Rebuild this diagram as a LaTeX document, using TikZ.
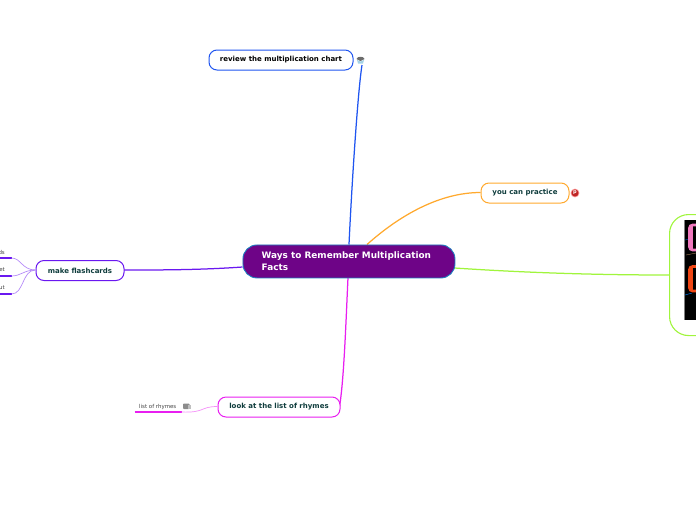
\documentclass[tikz,border=0pt]{standalone}
\usepackage{fontspec}
\setmainfont{DejaVu Sans}
\definecolor{cBlue}{HTML}{1F55F0}
\definecolor{cOrange}{HTML}{FFA92E}
\definecolor{cGreen}{HTML}{A0F53C}
\definecolor{cViolet}{HTML}{6A18F0}
\definecolor{cMag}{HTML}{E81FF0}
\definecolor{cCenter}{HTML}{6E0487}
\definecolor{cEdge}{HTML}{1C80C0}
\definecolor{cText}{HTML}{0F3D3D}
\definecolor{cPink}{HTML}{F078BE}
\definecolor{cRed}{HTML}{F04614}
\tikzset{
 x=1pt,y=-1pt,
 topic/.style={draw,fill=white,rounded corners=8pt,line width=1pt,inner sep=0pt,anchor=north west,text=cText,font=\fontsize{7}{9}\selectfont\bfseries,align=center},
 leaf/.style={inner sep=0pt,font=\fontsize{5.45}{6}\selectfont,text=black!75},
 conn/.style={line width=1.25pt},
 thin conn/.style={line width=.7pt},
 under/.style={line width=1.4pt},
}
\begin{document}
\begin{tikzpicture}
\useasboundingbox (0,0) rectangle (696,520);
\clip (0,0) rectangle (696,520);
\coordinate (cT) at (349,244.5);
\coordinate (cB) at (348,277.5);
\coordinate (cO) at (367,244.5);
\coordinate (cL) at (242.5,267);
\coordinate (cR) at (454.5,268);
\coordinate (revEnd) at (362,65);
\coordinate (practiceW) at (480.5,192.5);
\coordinate (flashE) at (123.5,270);
\coordinate (flashW) at (35.5,270);
\coordinate (rhymesE) at (339.5,406.5);
\coordinate (rhymesW) at (217.5,406.5);
\coordinate (imgW) at (669,275);
\draw[conn,cBlue] (cT) .. controls (352,180) and (358,90) .. (revEnd);
\draw[conn,cOrange] (cO) .. controls (400,215) and (440,192.5) .. (practiceW);
\draw[conn,cGreen] (cR) .. controls (530,273) and (600,275) .. (imgW);
\draw[conn,cViolet] (cL) .. controls (200,270) and (160,270) .. (flashE);
\draw[conn,cMag] (cB) .. controls (346,320) and (344,380) .. (rhymesE);
\node[topic,draw=cBlue,text=black,minimum width=144pt,minimum height=20pt] (review) at (208.5,49.5) {review the multiplication chart};
\node[topic,draw=cOrange,minimum width=88pt,minimum height=20pt] (practice) at (480.5,182.5) {you can practice};
\node[topic,draw=cViolet,minimum width=88pt,minimum height=20pt] (flash) at (35.5,260) {make flashcards};
\node[topic,draw=cMag,minimum width=122pt,minimum height=20pt] (rhymes) at (217.5,396.5) {look at the list of rhymes};
\node[draw=cGreen,fill=white,rounded corners=19pt,line width=1.1pt,minimum width=80pt,minimum height=121pt,inner sep=0pt,anchor=north west] (img) at (669,214) {};
\node[draw=cEdge,fill=cCenter,rounded corners=14pt,line width=.9pt,minimum width=212pt,minimum height=33pt,inner sep=0pt,anchor=north west] (center) at (242.5,244.5) {};
\node[anchor=north west,inner sep=0pt,text=white,font=\fontsize{8.9}{11.5}\selectfont\bfseries,align=left] (title) at (261.5,252) {Ways to Remember Multiplication\\Facts};
% image
\fill[black] (684,220) rectangle (696,320);
\draw[gray,line width=.6pt] (684,220) -- (684,320);
\draw[blue!50!cyan,line width=.3pt] (685,240) -- (690,239);
\draw[brown!60!gray,line width=.4pt] (686,255) -- (696,253);
\draw[blue!50!cyan,line width=.4pt] (685,295) -- (692,293);
\path[fill=black,draw=cPink,line width=2.6pt,rounded corners=3pt] (689.5,225) rectangle (705,250);
\path[fill=black,draw=cRed,line width=2.6pt,rounded corners=3pt] (689.5,266.5) rectangle (705,291);
\fill[cPink] (690,226) rectangle (692.5,249);
\fill[cRed] (690,267) rectangle (692.5,290);
% review icon
\fill[gray!85!black] (356.5,59) .. controls (357,56) and (364,56) .. (364.5,59) -- (360.5,61) -- cycle;
\fill[gray!40!cyan!50] (357,60) -- (360.5,61.5) -- (364,60) -- (363,63.5) -- (358,63.5) -- cycle;
% pinterest icon
\node[circle,fill=red!70!black!85!white,draw=red!40!white,line width=.6pt,minimum size=8pt,inner sep=0pt,text=white,font=\fontsize{5}{5}\selectfont\bfseries] (pin) at (575,193) {p};
% flashcard leaves
\node[leaf,anchor=east] (l1) at (5,252) {ds};
\node[leaf,anchor=east] (l2) at (5,270) {et};
\node[leaf,anchor=east] (l3) at (5,288) {ut};
\coordinate (u1) at (11.5,258);
\coordinate (u2) at (11.5,276);
\coordinate (u3) at (11.5,294);
\coordinate (lx1) at (-2,258);
\coordinate (lx2) at (-2,276);
\coordinate (lx3) at (-2,294);
\draw[under,cViolet] (lx1) -- (u1);
\draw[under,cViolet] (lx2) -- (u2);
\draw[under,cViolet] (lx3) -- (u3);
\draw[thin conn,cViolet!50] (u1) .. controls (21,258) and (22,270) .. (flashW);
\draw[thin conn,cViolet!50] (u2) .. controls (21,276) and (24,270) .. (flashW);
\draw[thin conn,cViolet!50] (u3) .. controls (24,294) and (22,270) .. (flashW);
% rhymes leaf
\node[leaf,anchor=west] (l4) at (139,406.5) {list of rhymes};
\coordinate (u4a) at (134.5,412);
\coordinate (u4b) at (181.5,412);
\draw[under,cMag] (u4a) -- (u4b);
\draw[thin conn,cMag!50] (u4b) .. controls (205,413) and (200,406.5) .. (rhymesW);
\fill[black!45,rounded corners=.8pt] (183,403.5) rectangle (189.5,409);
\fill[black!25] (188,405) rectangle (191,409);
\end{tikzpicture}
\end{document}
